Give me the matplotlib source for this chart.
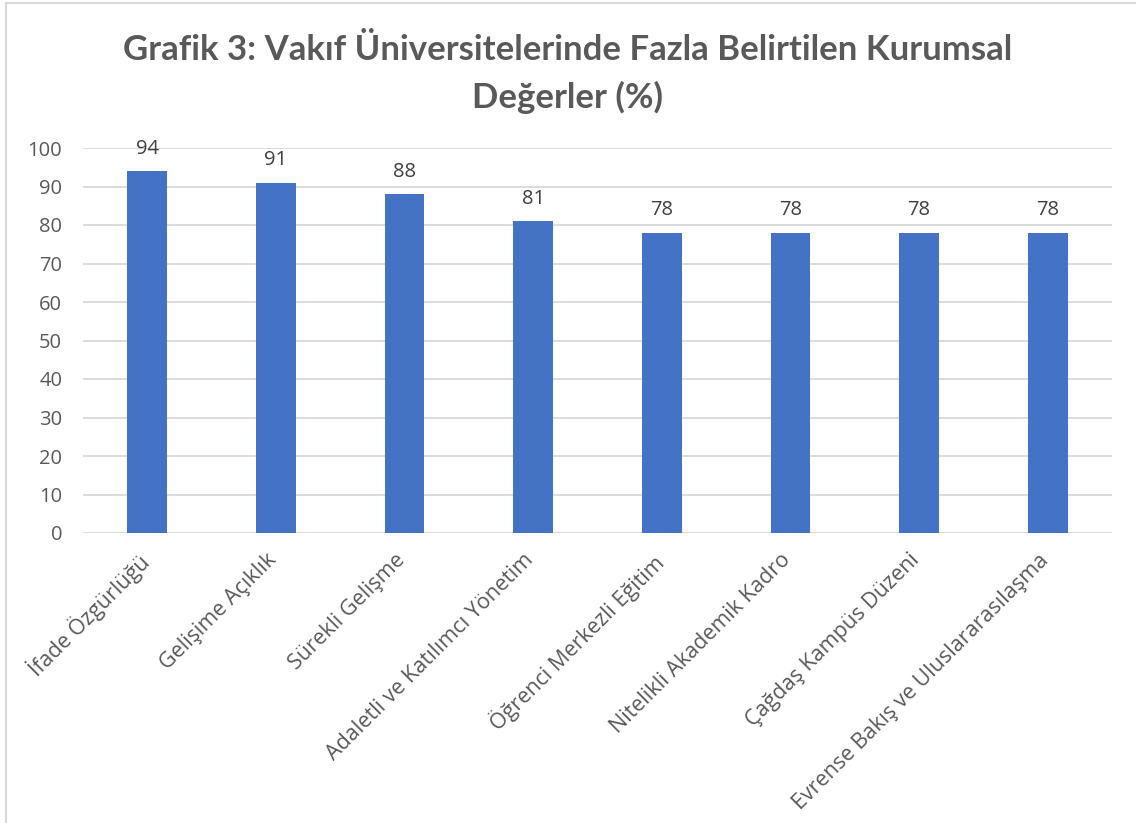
import matplotlib
matplotlib.use("Agg")
import matplotlib.pyplot as plt
from matplotlib.lines import Line2D
from matplotlib.transforms import ScaledTranslation

categories = ["İfade Özgürlüğü", "Gelişime Açıklık", "Sürekli Gelişme",
              "Adaletli ve Katılımcı Yönetim", "Öğrenci Merkezli Eğitim",
              "Nitelikli Akademik Kadro", "Çağdaş Kampüs Düzeni",
              "Evrense Bakış ve Uluslararasılaşma"]
values = [94, 91, 88, 81, 78, 78, 78, 78]
yticks = [0, 10, 20, 30, 40, 50, 60, 70, 80, 90, 100]

plt.rcParams['font.family'] = ['Open Sans', 'DejaVu Sans']
grey = '#595959'

fig = plt.figure(figsize=(11.36, 8.23), dpi=100)
ax = fig.add_axes([83/1136, 1-533/823, (1112-83)/1136, (533-148)/823])

x = list(range(len(categories)))
ax.bar(x, values, width=0.31, color='#4472C4', zorder=3)
for xi, v in zip(x, values):
    ax.annotate(str(v), (xi, v), xytext=(0, 9), textcoords='offset points',
                ha='center', va='bottom', fontsize=14.5, color='#404040')

ax.set_ylim(0, 100)
ax.set_xlim(-0.5, len(categories) - 0.5)
ax.set_yticks(yticks)
ax.set_yticklabels([str(t) for t in yticks], fontsize=14.5, color=grey)
ax.set_xticks(x)
ax.set_xticklabels(categories, rotation=45, ha='right', rotation_mode='anchor',
                   fontsize=15.5, color=grey)
ax.tick_params(axis='y', length=0, pad=15)
ax.tick_params(axis='x', length=0, pad=12)
shift = ScaledTranslation(-10/100, 0, fig.dpi_scale_trans)
for lbl in ax.get_xticklabels():
    lbl.set_transform(lbl.get_transform() + shift)
ax.grid(axis='y', color='#d9d9d9', linewidth=1.3, zorder=0)
for s in ax.spines.values():
    s.set_visible(False)

fig.text(0.5, 1-50/823, "Grafik 3: Vakıf Üniversitelerinde Fazla Belirtilen Kurumsal",
         ha='center', va='center', fontsize=25, fontweight='bold', color=grey,
         family=['Lato', 'DejaVu Sans'])
fig.text(0.5, 1-97/823, "Değerler (%)",
         ha='center', va='center', fontsize=25, fontweight='bold', color=grey,
         family=['Lato', 'DejaVu Sans'])

# outer chart border (partial, as cropped)
fig.add_artist(Line2D([6/1136, 6/1136], [0, 1-3/823], transform=fig.transFigure,
                      color='#d9d9d9', linewidth=1.5))
fig.add_artist(Line2D([6/1136, 1], [1-3/823, 1-3/823], transform=fig.transFigure,
                      color='#d9d9d9', linewidth=1.5))

fig.savefig("out.png", dpi=100)
